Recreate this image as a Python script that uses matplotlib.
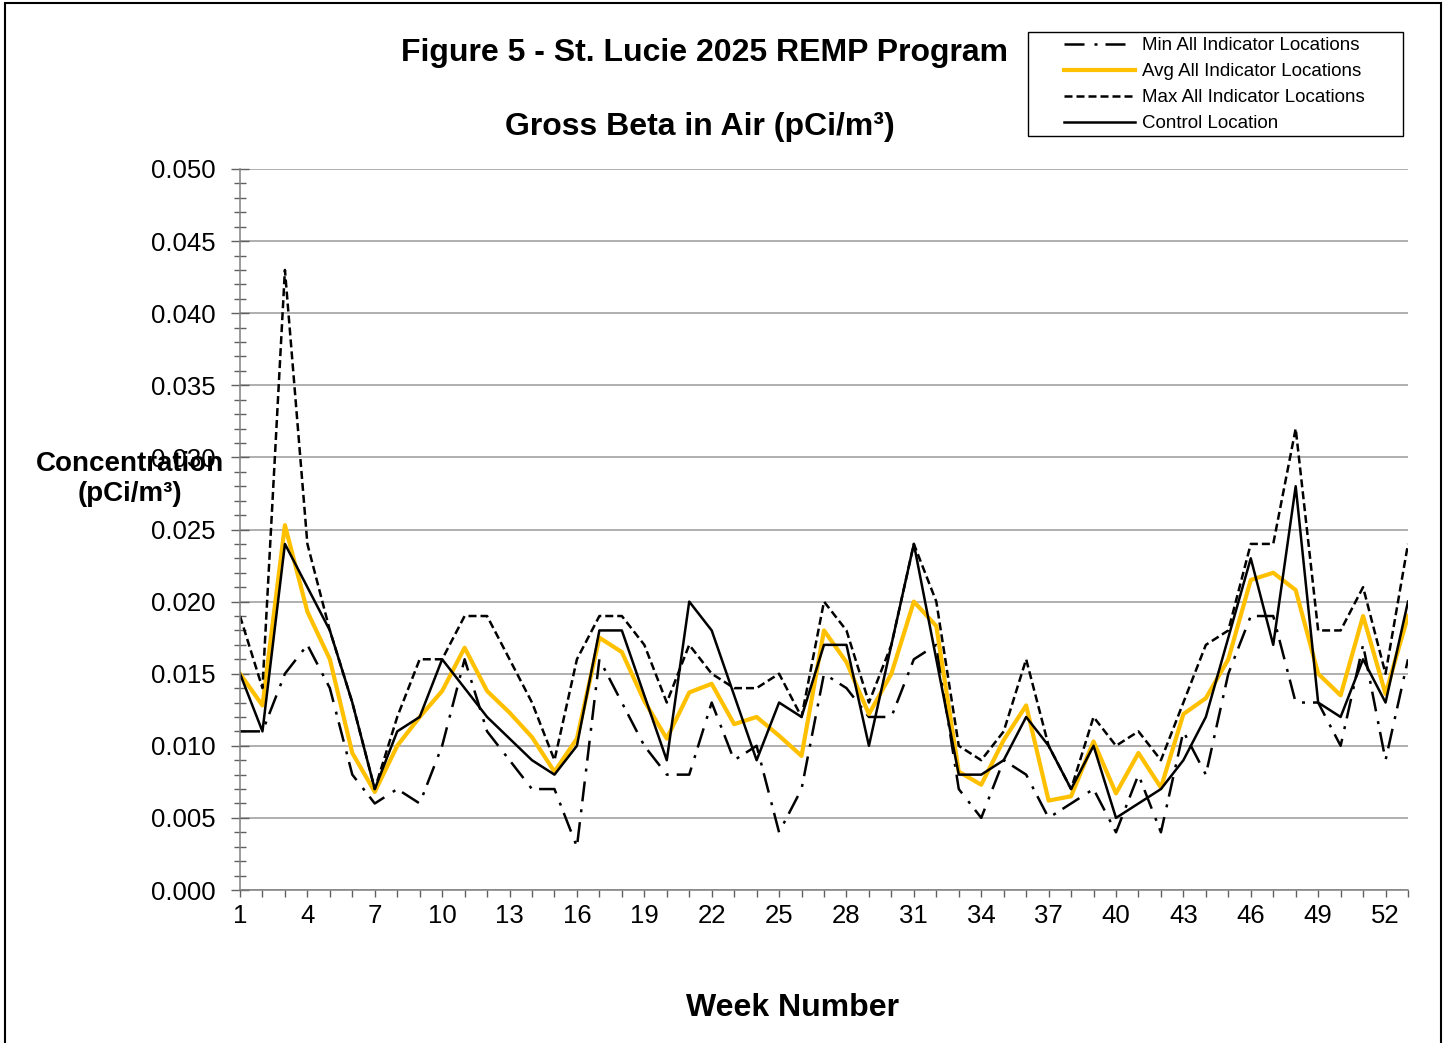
import numpy as np
import matplotlib.pyplot as plt
from matplotlib.patches import Rectangle
from matplotlib.ticker import MultipleLocator, FormatStrFormatter

plt.rcParams['font.family'] = ['Liberation Sans', 'DejaVu Sans']

W, H = 1447, 1043

weeks = np.arange(1, 54)

# weekly values in units of 0.001 pCi/m3
min_ind = [11, 11, 15, 17, 14, 8, 6, 7, 6, 10, 16, 11, 9, 7, 7, 3, 16, 13, 10, 8,
           8, 13, 9, 10, 4, 7, 15, 14, 12, 12, 16, 17, 7, 5, 9, 8, 5, 6, 7, 4,
           8, 4, 11, 8, 15, 19, 19, 13, 13, 10, 17, 9, 16]
avg_ind = [15, 12.8, 25.3, 19.3, 16.0, 9.5, 6.8, 10.0, 12.0, 13.8, 16.8, 13.8, 12.3,
           10.6, 8.2, 10.5, 17.5, 16.5, 13.1, 10.5, 13.7, 14.3, 11.5, 12.0, 10.7,
           9.3, 18.0, 15.8, 12.2, 15.0, 20.0, 18.3, 8.2, 7.3, 10.4, 12.8, 6.2, 6.5,
           10.3, 6.7, 9.5, 7.1, 12.2, 13.3, 16.0, 21.5, 22.0, 20.8, 15.0, 13.5,
           19.0, 13.6, 19.0]
max_ind = [19, 14, 43, 24, 18, 13, 7, 12, 16, 16, 19, 19, 16, 13, 9, 16, 19, 19, 17, 13,
           17, 15, 14, 14, 15, 12, 20, 18, 13, 17, 24, 20, 10, 9, 11, 16, 10, 7, 12, 10,
           11, 9, 13, 17, 18, 24, 24, 32, 18, 18, 21, 15, 24]
control = [15, 11, 24, 21, 18, 13, 7, 11, 12, 16, 14, 12, 10.5, 9, 8, 10, 18, 18, 13.5,
           9, 20, 18, 13.5, 9, 13, 12, 17, 17, 10, 17, 24, 16, 8, 8, 9, 12, 10, 7, 10,
           5, 6, 7, 9, 12, 17.5, 23, 17, 28, 13, 12, 16, 13, 20]

series_labels = ['Min All Indicator Locations', 'Avg All Indicator Locations',
                 'Max All Indicator Locations', 'Control Location']

fig = plt.figure(figsize=(W / 100, H / 100), dpi=100)
ax = fig.add_axes([240 / W, 1 - 890 / H, (1408 - 240) / W, (890 - 169) / H])

scale = 0.001
ax.plot(weeks, np.array(min_ind) * scale, color='black', lw=1.8,
        linestyle=(0, (8, 4, 1.2, 3.2)), label=series_labels[0])
ax.plot(weeks, np.array(avg_ind) * scale, color='#FFC000', lw=3.0,
        label=series_labels[1])
ax.plot(weeks, np.array(max_ind) * scale, color='black', lw=1.8,
        linestyle=(0, (3.2, 1.6)), label=series_labels[2])
ax.plot(weeks, np.array(control) * scale, color='black', lw=1.8,
        label=series_labels[3])

ax.set_xlim(1, 53)
ax.set_ylim(0, 0.05)
ax.xaxis.set_minor_locator(MultipleLocator(1))
ax.set_xticks(np.arange(1, 54, 3))
ax.yaxis.set_major_locator(MultipleLocator(0.005))
ax.yaxis.set_minor_locator(MultipleLocator(0.001))
ax.yaxis.set_major_formatter(FormatStrFormatter('%.3f'))

ax.yaxis.grid(True, which='major', color='#9a9a9a', lw=1.1)
ax.set_axisbelow(True)
for s in ['top', 'right']:
    ax.spines[s].set_visible(False)
for s in ['left', 'bottom']:
    ax.spines[s].set_color('#808080')
    ax.spines[s].set_linewidth(1.1)

ax.tick_params(axis='y', which='major', direction='inout', length=13.5, width=1.0,
               color='#606060', labelsize=18.5, pad=11)
ax.tick_params(axis='y', which='minor', direction='inout', length=8.5, width=1.0,
               color='#606060')
ax.tick_params(axis='x', which='both', direction='out', length=5, width=1.0,
               color='#606060', labelsize=18.5, pad=5)

fig.text(704.5 / W, 1 - 53 / H, 'Figure 5 - St. Lucie 2025 REMP Program',
         ha='center', va='center', fontsize=23, fontweight='bold')
fig.text(700 / W, 1 - 127 / H, 'Gross Beta in Air (pCi/m³)',
         ha='center', va='center', fontsize=23, fontweight='bold')
fig.text(130 / W, 1 - 479 / H, 'Concentration\n(pCi/m³)', ha='center', va='center',
         fontsize=20, fontweight='bold', linespacing=1.2)
fig.text(792 / W, 1 - 1008 / H, 'Week Number', ha='center', va='center',
         fontsize=23, fontweight='bold')

# legend box
fig.patches.append(Rectangle((1028 / W, 1 - 136 / H), (1403 - 1028) / W, 104 / H,
                             transform=fig.transFigure, fill=False, ec='black',
                             lw=1.0, zorder=5))
fig.legend(loc='upper left', bbox_to_anchor=(1064 / W, 1 - 37 / H), frameon=False,
           fontsize=13.5, handlelength=3.8, handletextpad=0.35, labelspacing=0.48,
           borderpad=0, borderaxespad=0)

# outer frame
fig.patches.append(Rectangle((5 / W, -0.01), (1441 - 5) / W, 1.0 - 3 / H + 0.01,
                             transform=fig.transFigure, fill=False, ec='black',
                             lw=1.5))

fig.savefig('out.png', dpi=100)
